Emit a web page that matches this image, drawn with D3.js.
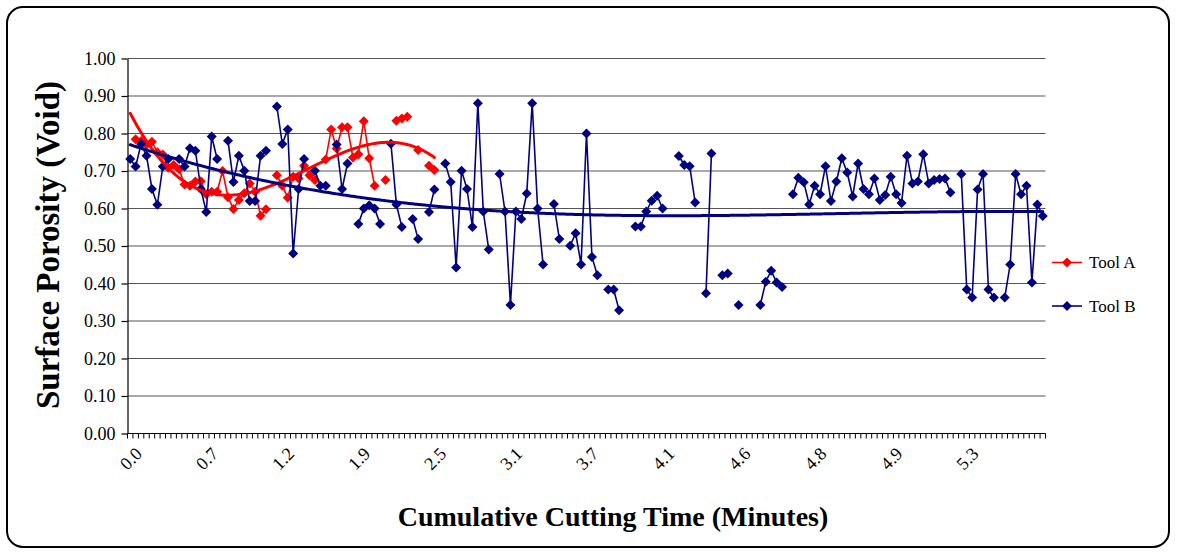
<!DOCTYPE html>
<html>
<head>
<meta charset="utf-8">
<script src="https://cdn.jsdelivr.net/npm/d3@7"></script>
<style>
  html, body { margin: 0; padding: 0; background: #fff; }
  svg { display: block; }
</style>
</head>
<body>
<svg id="chart" width="1177" height="554"></svg>
<script>
// ---- data -------------------------------------------------------------
// Cumulative cutting time labels, one every `labelEvery` samples
const tickLabels = ["0.0", "0.7", "1.2", "1.9", "2.5", "3.1", "3.7", "4.1", "4.6", "4.8", "4.9", "5.3"];
const labelEvery = 14;

// Porosity axis ticks
const yTicks = [0, 0.1, 0.2, 0.3, 0.4, 0.5, 0.6, 0.7, 0.8, 0.9, 1.0];

// Surface porosity of Tool A (null = no measurement)
const toolA = [
  null, 0.785, 0.780, 0.770, 0.778, 0.750, 0.744, 0.709, 0.716, 0.705,
  0.664, 0.661, 0.672, 0.673, 0.638, 0.645, 0.645, 0.700, 0.630, 0.599,
  0.623, 0.641, 0.667, 0.645, 0.581, 0.598, null, 0.689, 0.661, 0.629,
  0.685, 0.680, 0.714, 0.689, 0.676, null, 0.731, 0.811, 0.760, 0.817,
  0.817, 0.736, 0.745, 0.833, 0.734, 0.661, null, 0.676, null, 0.834,
  0.840, 0.845, null, 0.756, null, 0.714, 0.703
];

// Surface porosity of Tool B (null = no measurement)
const toolB = [
  0.732, 0.712, 0.772, 0.741, 0.652, 0.610, 0.712, 0.732, null, 0.732,
  0.712, 0.761, 0.754, 0.652, 0.591, 0.792, 0.732, null, 0.781, 0.671,
  0.741, 0.701, 0.620, 0.620, 0.741, 0.754, null, 0.872, 0.772, 0.811,
  0.480, 0.652, 0.732, null, 0.701, 0.661, 0.661, null, 0.771, 0.652,
  0.720, null, 0.559, 0.600, 0.609, 0.600, 0.559, null, 0.773, 0.611,
  0.551, null, 0.572, 0.519, null, 0.591, 0.651, null, 0.720, 0.671,
  0.443, 0.701, 0.652, 0.551, 0.881, 0.592, 0.491, null, 0.692, 0.592,
  0.343, 0.592, 0.572, 0.640, 0.881, 0.600, 0.451, null, 0.612, 0.519,
  null, 0.501, 0.534, 0.451, 0.800, 0.471, 0.422, null, 0.384, 0.384,
  0.329, null, null, 0.552, 0.552, 0.592, 0.621, 0.634, 0.600, null,
  null, 0.740, 0.716, 0.713, 0.616, null, 0.374, 0.747, null, 0.422,
  0.427, null, 0.343, null, null, null, 0.343, 0.405, 0.434, 0.403,
  0.391, null, 0.638, 0.682, 0.670, 0.611, 0.661, 0.638, 0.713, 0.620,
  0.672, 0.734, 0.696, 0.632, 0.720, 0.652, 0.638, 0.680, 0.623, 0.636,
  0.685, 0.638, 0.615, 0.741, 0.667, 0.672, 0.745, 0.667, 0.676, 0.679,
  0.680, 0.643, null, 0.692, 0.384, 0.363, 0.651, 0.692, 0.384, 0.363,
  null, 0.363, 0.451, 0.692, 0.638, 0.661, 0.403, 0.611, 0.580
];

// Sample positions along the category axis
const samples = d3.range(toolB.length);

const series = [
  { name: "Tool A", values: toolA, color: "#ff0000", trendOrder: 3 },
  { name: "Tool B", values: toolB, color: "#000080", trendOrder: 3 }
];

// ---- layout -----------------------------------------------------------
const plot = { left: 127.5, right: 1045.5, top: 58.5, bottom: 433.5 };
const serif = "'Liberation Serif', 'Times New Roman', serif";

const svg = d3.select("#chart");

// rounded chart frame
svg.append("rect")
  .attr("x", 7).attr("y", 7).attr("width", 1162).attr("height", 540)
  .attr("rx", 16).attr("ry", 16)
  .attr("fill", "#fff").attr("stroke", "#000").attr("stroke-width", 2);

const x = d3.scaleBand().domain(samples).range([plot.left, plot.right]);
const bw = x.bandwidth();
const cx = i => x(i) + bw / 2;
// continuous version of the category axis, used by the trend curves
const xc = d3.scaleLinear().domain([0, samples.length - 1]).range([cx(0), cx(samples.length - 1)]);
const y = d3.scaleLinear().domain([0, 1]).range([plot.bottom, plot.top]);

// horizontal gridlines
svg.append("g")
  .selectAll("line")
  .data(yTicks.filter(v => v > 0))
  .join("line")
  .attr("x1", plot.left).attr("x2", plot.right)
  .attr("y1", d => y(d)).attr("y2", d => y(d))
  .attr("stroke", "#555").attr("stroke-width", 1.2);

// value axis
const gy = svg.append("g")
  .attr("transform", `translate(${plot.left},0)`)
  .call(d3.axisLeft(y).tickValues(yTicks).tickFormat(d3.format(".2f"))
    .tickSize(6).tickSizeOuter(0).tickPadding(6));
gy.select(".domain").attr("stroke", "#000").attr("stroke-width", 1.2);
gy.selectAll(".tick line").attr("stroke", "#000").attr("stroke-width", 1.2);
gy.selectAll(".tick text")
  .attr("font-family", serif).attr("font-size", 18).attr("fill", "#000");

// category axis: baseline, a tick at every sample boundary, rotated labels
const gx = svg.append("g");
gx.append("line")
  .attr("x1", plot.left).attr("x2", plot.right)
  .attr("y1", plot.bottom).attr("y2", plot.bottom)
  .attr("stroke", "#000").attr("stroke-width", 1.2);
gx.selectAll("line.tick")
  .data(samples.map(i => x(i)).concat([plot.right]))
  .join("line").attr("class", "tick")
  .attr("x1", d => d).attr("x2", d => d)
  .attr("y1", plot.bottom).attr("y2", plot.bottom + 5)
  .attr("stroke", "#000").attr("stroke-width", 1);
gx.selectAll("text")
  .data(tickLabels.map((t, k) => ({ t, i: k * labelEvery })))
  .join("text")
  .attr("transform", d => `translate(${cx(d.i) + 13},455) rotate(-45)`)
  .attr("text-anchor", "end")
  .attr("font-family", serif).attr("font-size", 18).attr("fill", "#000")
  .text(d => d.t);

// ---- series -----------------------------------------------------------
const diamond = r => `M0,${-r}L${r},0L0,${r}L${-r},0Z`;

const line = d3.line()
  .defined(d => d != null)
  .x((d, i) => cx(i))
  .y(d => y(d));

series.forEach(s => {
  const g = svg.append("g");
  g.append("path")
    .attr("d", line(s.values))
    .attr("fill", "none").attr("stroke", s.color).attr("stroke-width", 1.6)
    .attr("stroke-linejoin", "round");
  g.selectAll("path.mark")
    .data(s.values.map((v, i) => ({ v, i })).filter(d => d.v != null))
    .join("path").attr("class", "mark")
    .attr("transform", d => `translate(${cx(d.i)},${y(d.v)})`)
    .attr("d", diamond(5))
    .attr("fill", s.color);
});

// least-squares polynomial trend over the sample index (1-based)
function polyFit(values, order) {
  const pts = [];
  values.forEach((v, i) => { if (v != null) pts.push([i + 1, v]); });
  const scale = values.length;
  const n = order + 1;
  const A = Array.from({ length: n }, () => new Array(n + 1).fill(0));
  pts.forEach(([px, py]) => {
    const t = px / scale;
    const pw = [1];
    for (let k = 1; k < 2 * n; k++) pw.push(pw[k - 1] * t);
    for (let r = 0; r < n; r++) {
      for (let c = 0; c < n; c++) A[r][c] += pw[r + c];
      A[r][n] += pw[r] * py;
    }
  });
  for (let c = 0; c < n; c++) {
    let p = c;
    for (let r = c + 1; r < n; r++) if (Math.abs(A[r][c]) > Math.abs(A[p][c])) p = r;
    [A[c], A[p]] = [A[p], A[c]];
    for (let r = 0; r < n; r++) {
      if (r === c) continue;
      const f = A[r][c] / A[c][c];
      for (let k = c; k <= n; k++) A[r][k] -= f * A[c][k];
    }
  }
  const coef = A.map((row, r) => row[n] / row[r]);
  return xi => {
    const t = xi / scale;
    let s = 0, p = 1;
    for (let k = 0; k < n; k++) { s += coef[k] * p; p *= t; }
    return s;
  };
}

const trendLine = d3.line().x(d => xc(d[0])).y(d => y(d[1]));
series.forEach(s => {
  const f = polyFit(s.values, s.trendOrder);
  const pts = d3.range(0, s.values.length - 1 + 0.001, 0.25).map(t => [t, f(t + 1)]);
  svg.append("path")
    .attr("d", trendLine(pts))
    .attr("fill", "none").attr("stroke", s.color).attr("stroke-width", 3)
    .attr("stroke-linejoin", "round").attr("stroke-linecap", "round");
});

// ---- legend -----------------------------------------------------------
const legend = svg.append("g");
series.forEach((s, k) => {
  const ly = 262.5 + k * 43.5;
  legend.append("line")
    .attr("x1", 1052).attr("x2", 1082).attr("y1", ly).attr("y2", ly)
    .attr("stroke", s.color).attr("stroke-width", 1.6);
  legend.append("path")
    .attr("transform", `translate(1067,${ly})`)
    .attr("d", diamond(5)).attr("fill", s.color);
  legend.append("text")
    .attr("x", 1089).attr("y", ly).attr("dy", "0.35em")
    .attr("font-family", serif).attr("font-size", 17).attr("fill", "#000")
    .text(s.name);
});

// ---- axis titles ------------------------------------------------------
svg.append("text")
  .attr("transform", `translate(47,245) rotate(-90)`)
  .attr("dy", "0.35em").attr("text-anchor", "middle")
  .attr("font-family", serif).attr("font-size", 33).attr("font-weight", "bold")
  .text("Surface Porosity (Void)");

svg.append("text")
  .attr("x", 613).attr("y", 516)
  .attr("dy", "0.35em").attr("text-anchor", "middle")
  .attr("font-family", serif).attr("font-size", 28).attr("font-weight", "bold")
  .text("Cumulative Cutting Time (Minutes)");
</script>
</body>
</html>
